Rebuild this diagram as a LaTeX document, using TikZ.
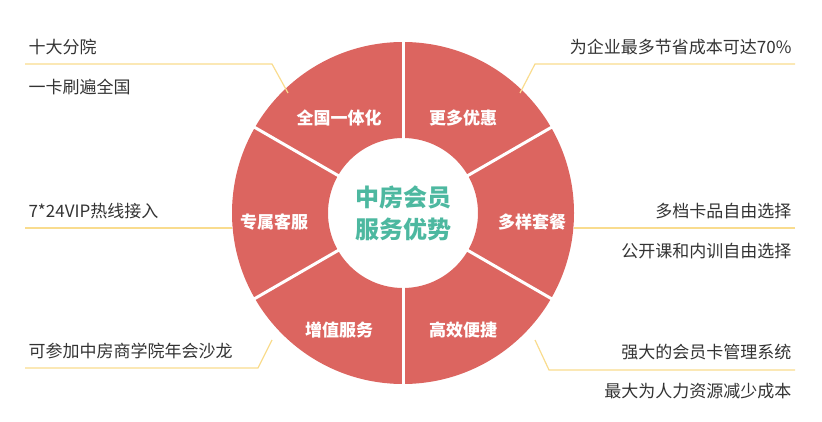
\documentclass[tikz,border=0pt]{standalone}
\usepackage{fontspec}
\usetikzlibrary{calc}
\setmainfont{Noto Sans CJK SC}
\definecolor{seg}{HTML}{DC6560}
\definecolor{lead}{HTML}{F9DC8E}
\definecolor{teal}{HTML}{4DB8A0}
\definecolor{txt}{HTML}{333333}
\begin{document}
\begin{tikzpicture}[x=1pt,y=-1pt,
  seglab/.style={text=white,font=\fontsize{17}{20}\selectfont\bfseries},
  side/.style={text=txt,font=\fontsize{17}{20}\selectfont},
  leader/.style={draw=lead,line width=1.2pt}]
\useasboundingbox (0,0) rectangle (822,422);
\coordinate (c) at (403,213);
\fill[seg,even odd rule] (c) circle (171) (c) circle (75);
\foreach \a in {30,90,150,210,270,330}
  \draw[white,line width=3pt] ($(c)+(\a:70)$) -- ($(c)+(\a:176)$);
\node[seglab] (s1) at (339,118) {全国一体化};
\node[seglab] (s2) at (463,118) {更多优惠};
\node[seglab] (s3) at (532,222) {多样套餐};
\node[seglab] (s4) at (463,330) {高效便捷};
\node[seglab] (s5) at (339,330) {增值服务};
\node[seglab] (s6) at (274,222) {专属客服};
\node[text=teal,align=center,font=\fontsize{24}{32}\selectfont\bfseries] (ctr) at (c) {中房会员\\服务优势};
\node[side,anchor=west] (l1) at (25,47) {十大分院};
\node[side,anchor=west] (l2) at (25,87) {一卡刷遍全国};
\node[side,anchor=west] (l3) at (25,211) {7*24VIP热线接入};
\node[side,anchor=west] (l4) at (25,351) {可参加中房商学院年会沙龙};
\node[side,anchor=east] (r1) at (795,47) {为企业最多节省成本可达70\%};
\node[side,anchor=east] (r2) at (795,211) {多档卡品自由选择};
\node[side,anchor=east] (r3) at (795,251) {公开课和内训自由选择};
\node[side,anchor=east] (r4) at (795,352) {强大的会员卡管理系统};
\node[side,anchor=east] (r5) at (795,391) {最大为人力资源减少成本};
\coordinate (a1) at (25,64); \coordinate (a2) at (272,64); \coordinate (a3) at (288,93);
\draw[leader] (a1) -- (a2) -- (a3);
\coordinate (b1) at (795,64); \coordinate (b2) at (535,64); \coordinate (b3) at (520,93);
\draw[leader] (b1) -- (b2) -- (b3);
\coordinate (d1) at (25,228); \coordinate (d2) at (232,228);
\draw[leader] (d1) -- (d2);
\coordinate (e1) at (795,228); \coordinate (e2) at (574,228);
\draw[leader] (e1) -- (e2);
\coordinate (f1) at (25,368); \coordinate (f2) at (258,368); \coordinate (f3) at (272,340);
\draw[leader] (f1) -- (f2) -- (f3);
\coordinate (g1) at (795,370); \coordinate (g2) at (549,370); \coordinate (g3) at (535,340);
\draw[leader] (g1) -- (g2) -- (g3);
\end{tikzpicture}
\end{document}
